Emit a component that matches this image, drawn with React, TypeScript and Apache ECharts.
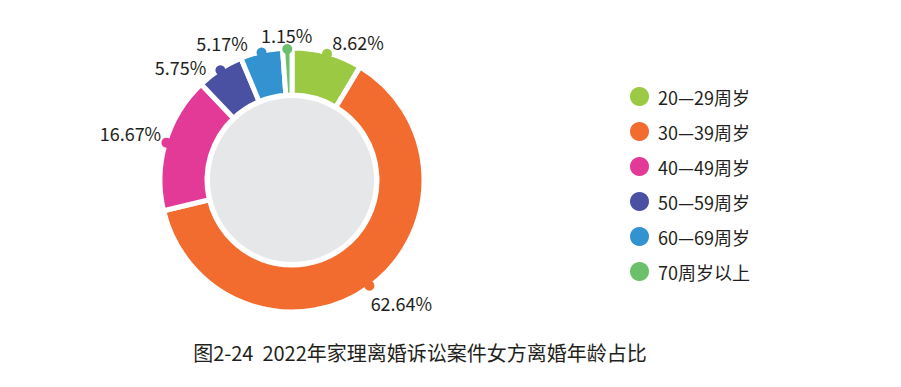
import React, { useEffect, useRef } from "react";
import * as echarts from "echarts";

// ---- data ----
const categories = ["20—29周岁", "30—39周岁", "40—49周岁", "50—59周岁", "60—69周岁", "70周岁以上"];
const shares = [8.62, 62.64, 16.67, 5.75, 5.17, 1.15];
const sliceColors = ["#9cc943", "#f26c30", "#e43a97", "#4b51a2", "#3393d1", "#6cc06c"];
const titleText = "图2-24  2022年家理离婚诉讼案件女方离婚年龄占比";

// ---- layout (label nudges relative to each marker dot, px) ----
const labelOffsets: [number, number][] = [
  [31, -12],
  [32, 17],
  [-36, -10],
  [-40, -3.5],
  [-39.5, -9.3],
  [-0.6, -14],
];

const FONT = '"Noto Sans CJK SC", "Noto Sans", sans-serif';
const CENTER: [number, number] = [292, 180];

export default function App() {
  const ref = useRef<HTMLDivElement>(null);

  useEffect(() => {
    document.body.style.margin = "0";
    if (!ref.current) return;
    const chart = echarts.init(ref.current, null, { renderer: "svg" });

    const total = shares.reduce((a, b) => a + b, 0);
    let acc = 0;
    const mids = shares.map((v) => {
      const m = acc + v / 2;
      acc += v;
      return (m / total) * 100;
    });

    chart.setOption({
      animation: false,
      textStyle: { fontFamily: FONT },
      color: sliceColors,
      legend: {
        data: categories,
        orient: "vertical",
        left: 623,
        top: 80,
        itemWidth: 21,
        itemHeight: 21,
        itemGap: 12,
        icon: "circle",
        selectedMode: false,
        textStyle: {
          fontSize: 18,
          lineHeight: 21,
          color: "#231f20",
          fontFamily: FONT,
          padding: [0, 0, 0, 3],
        },
      },
      polar: { center: CENTER, radius: 131 },
      radiusAxis: { type: "value", min: 0, max: 1, show: false },
      angleAxis: { type: "value", min: 0, max: 100, startAngle: 90, clockwise: true, show: false },
      graphic: [
        {
          type: "text",
          x: 420,
          y: 352,
          style: {
            text: titleText,
            fill: "#231f20",
            fontSize: 20,
            fontFamily: FONT,
            align: "center",
            verticalAlign: "middle",
          },
        },
      ],
      series: [
        {
          type: "pie",
          center: CENTER,
          radius: [0, 82],
          silent: true,
          label: { show: false },
          labelLine: { show: false },
          itemStyle: { color: "#e6e7e8" },
          data: [{ value: 1, name: "" }],
        },
        {
          type: "pie",
          center: CENTER,
          radius: [85, 132],
          startAngle: 90,
          clockwise: true,
          silent: true,
          label: { show: false },
          labelLine: { show: false },
          itemStyle: { borderColor: "#ffffff", borderWidth: 5 },
          data: categories.map((name, i) => ({
            name,
            value: shares[i],
            itemStyle: { color: sliceColors[i] },
          })),
        },
        {
          type: "scatter",
          coordinateSystem: "polar",
          symbol: "circle",
          symbolSize: 10,
          silent: true,
          itemStyle: { opacity: 1 },
          data: shares.map((v, i) => ({
            value: [1, mids[i]],
            itemStyle: { color: sliceColors[i], opacity: 1 },
            label: {
              show: true,
              position: "inside",
              offset: labelOffsets[i],
              formatter: v.toFixed(2) + "%",
              fontSize: 18,
              color: "#231f20",
              opacity: 1,
              fontFamily: FONT,
            },
          })),
        },
      ],
    });

    return () => chart.dispose();
  }, []);

  return <div ref={ref} style={{ width: 901, height: 387 }} />;
}
